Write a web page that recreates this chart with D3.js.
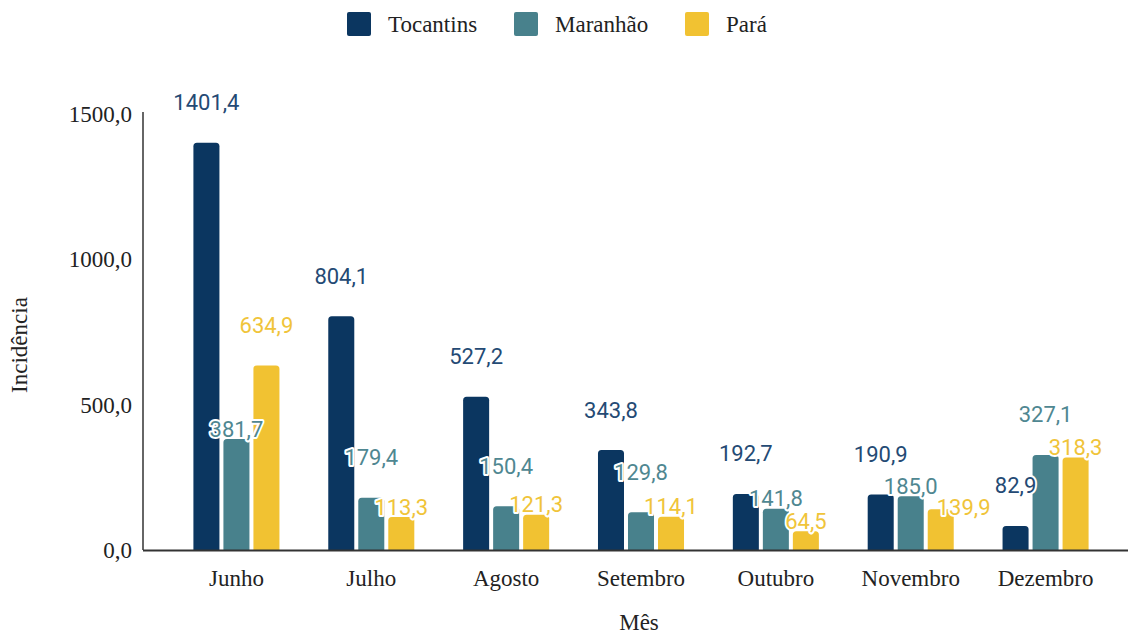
<!DOCTYPE html>
<html>
<head>
<meta charset="utf-8">
<script src="https://cdn.jsdelivr.net/npm/d3@7"></script>
<style>
  body { margin: 0; background: #fff; }
  svg { display: block; }
  .tick-label, .axis-title, .legend-text { font-family: "Liberation Serif", "Times New Roman", serif; fill: #222; }
  .value-label { font-family: Roboto, sans-serif; font-size: 22px; paint-order: stroke; stroke: #fff; stroke-width: 4px; stroke-linejoin: round; }
</style>
</head>
<body>
<script>
const w = 1128;
const h = 634;
const months = ["Junho", "Julho", "Agosto", "Setembro", "Outubro", "Novembro", "Dezembro"];
const series = ["Tocantins", "Maranhão", "Pará"];
const tocantins = [1401.4, 804.1, 527.2, 343.8, 192.7, 190.9, 82.9];
const maranhao = [381.7, 179.4, 150.4, 129.8, 141.8, 185.0, 327.1];
const para = [634.9, 113.3, 121.3, 114.1, 64.5, 139.9, 318.3];
const yTicks = [0, 500, 1000, 1500];
const colors = ["#0b3660", "#48818c", "#f1c232"];
const labelColors = ["#244a74", "#4f8791", "#f0c43a"];

const values = [tocantins, maranhao, para];
const fmt = (v) => d3.format(".1f")(v).replace(".", ",");

const svg = d3.select("body").append("svg").attr("width", w).attr("height", h);

const x0 = d3.scaleBand().domain(months).range([169, 1113]).paddingInner(0.362).paddingOuter(0.181);
const x1 = d3.scaleBand().domain(series).range([0, x0.bandwidth()]).paddingInner(0.133);
const y = d3.scaleLinear().domain([0, 1500]).range([550, 114]);

// y axis
const yAxis = svg.append("g").attr("transform", "translate(143,0)")
  .call(d3.axisLeft(y).tickValues(yTicks).tickSize(0).tickPadding(11).tickFormat(fmt));
yAxis.select(".domain").attr("stroke", "#333").attr("stroke-width", 1.5).attr("d", `M0,${y(1500) - 2}V${y(0)}`);
yAxis.selectAll("text").attr("class", "tick-label").attr("font-size", 23).attr("font-family", null).attr("fill", "#222");

// bars
const rounded = (x, yTop, bw, bh, r) => {
  r = Math.min(r, bh);
  return `M${x},${yTop + bh}V${yTop + r}Q${x},${yTop} ${x + r},${yTop}H${x + bw - r}Q${x + bw},${yTop} ${x + bw},${yTop + r}V${yTop + bh}Z`;
};
const bars = [];
months.forEach((m, i) => {
  series.forEach((s, j) => {
    bars.push({ m, s, j, v: values[j][i] });
  });
});
svg.append("g").selectAll("path").data(bars).join("path")
  .attr("fill", (d) => colors[d.j])
  .attr("d", (d) => rounded(x0(d.m) + x1(d.s), y(d.v), x1.bandwidth(), y(0) - y(d.v), 3.5));

// baseline
svg.append("line").attr("x1", 143).attr("x2", w).attr("y1", y(0) + 0.5).attr("y2", y(0) + 0.5)
  .attr("stroke", "#333").attr("stroke-width", 2);

// x labels
svg.append("g").selectAll("text").data(months).join("text")
  .attr("class", "tick-label").attr("font-size", 23).attr("text-anchor", "middle")
  .attr("x", (d) => x0(d) + x0.bandwidth() / 2).attr("y", 586).text((d) => d);

// axis titles
svg.append("text").attr("class", "axis-title").attr("font-size", 23).attr("text-anchor", "middle")
  .attr("x", 639).attr("y", 630).text("Mês");
svg.append("text").attr("class", "axis-title").attr("font-size", 23).attr("text-anchor", "middle")
  .attr("transform", "translate(27,345) rotate(-90)").text("Incidência");

// value labels: greedy placement above the bar, dropping down when it hits
// another label or gets boxed in between two taller neighbouring bars
const labels = svg.append("g");
const overlaps = (a, b) => a.x1 > b.x0 && a.x0 < b.x1 && a.y1 > b.y0 && a.y0 < b.y1;
months.forEach((m, i) => {
  const group = [];
  const barBoxes = series.map((s, j) => ({
    x0: x0(m) + x1(s), x1: x0(m) + x1(s) + x1.bandwidth(), y0: y(values[j][i]), y1: y(0)
  }));
  series.forEach((s, j) => {
    const v = values[j][i];
    const cx = x0(m) + x1(s) + x1.bandwidth() / 2;
    const top = y(v);
    const t = labels.append("text").attr("class", "value-label")
      .attr("fill", labelColors[j]).attr("text-anchor", "middle")
      .attr("dominant-baseline", "central").text(fmt(v));
    const tw = t.node().getComputedTextLength();
    const tries = [[0, -40], [0, -10], [tw / 2 - 4, -2]];
    let pos = tries[tries.length - 1];
    for (const c of tries) {
      const box = { x0: cx + c[0] - tw / 2, x1: cx + c[0] + tw / 2, y0: top + c[1] - 10, y1: top + c[1] + 10 };
      const hitsLabel = group.some((b) => overlaps(box, b));
      const boxedIn = c[1] === -40 && j > 0 && j < series.length - 1 &&
        overlaps(box, barBoxes[j - 1]) && overlaps(box, barBoxes[j + 1]);
      if (!hitsLabel && !boxedIn) { pos = c; break; }
    }
    group.push({ x0: cx + pos[0] - tw / 2, x1: cx + pos[0] + tw / 2, y0: top + pos[1] - 10, y1: top + pos[1] + 10 });
    t.attr("x", cx + pos[0]).attr("y", top + pos[1]);
  });
});

// legend
const legendX = [347, 514, 685];
const legend = svg.append("g").selectAll("g").data(series).join("g")
  .attr("transform", (d, i) => `translate(${legendX[i]},12)`);
legend.append("rect").attr("width", 24).attr("height", 24).attr("rx", 2).attr("fill", (d, i) => colors[i]);
legend.append("text").attr("class", "legend-text").attr("font-size", 23).attr("x", 41).attr("y", 20).text((d) => d);
</script>
</body>
</html>
